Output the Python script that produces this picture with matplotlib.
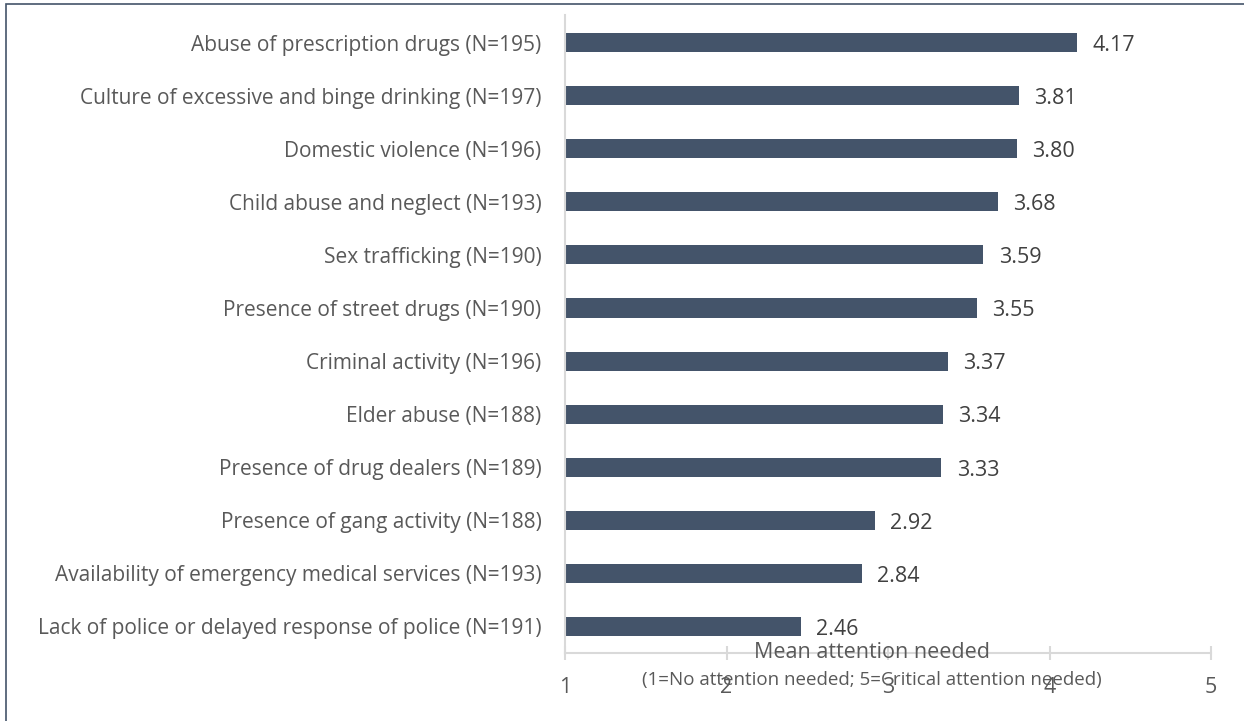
import matplotlib.pyplot as plt
from matplotlib.patches import Rectangle

labels = [
    'Abuse of prescription drugs (N=195)',
    'Culture of excessive and binge drinking (N=197)',
    'Domestic violence (N=196)',
    'Child abuse and neglect (N=193)',
    'Sex trafficking (N=190)',
    'Presence of street drugs (N=190)',
    'Criminal activity (N=196)',
    'Elder abuse (N=188)',
    'Presence of drug dealers (N=189)',
    'Presence of gang activity (N=188)',
    'Availability of emergency medical services (N=193)',
    'Lack of police or delayed response of police (N=191)',
]
means = [4.17, 3.81, 3.80, 3.68, 3.59, 3.55, 3.37, 3.34, 3.33, 2.92, 2.84, 2.46]
x_ticks = [1, 2, 3, 4, 5]

plt.rcParams['font.family'] = ['Open Sans', 'DejaVu Sans']
txt = '#595959'
bar_col = '#44546a'
grid_col = '#d9d9d9'

fig = plt.figure(figsize=(12.44, 7.21), dpi=100)
ax = fig.add_axes([565 / 1244, 1 - 653 / 721, 646 / 1244, 638 / 721])

pos = list(range(len(labels)))[::-1]
base = x_ticks[0]
ax.barh(pos, [m - base for m in means], left=base, height=0.36, color=bar_col)
for p, m in zip(pos, means):
    ax.annotate('%.2f' % m, (m, p), xytext=(11, -2), textcoords='offset points',
                va='center', ha='left', fontsize=15.5, color='#404040')

ax.set_xlim(1, 5)
ax.set_ylim(-0.5, 11.52)
ax.set_yticks(pos)
ax.set_yticklabels(labels, fontsize=15, color=txt)
ax.set_xticks(x_ticks)
ax.set_xticklabels([str(t) for t in x_ticks], fontsize=15.5, color=txt)
ax.tick_params(axis='y', length=0, pad=17)
ax.tick_params(axis='x', direction='inout', length=10, width=1.5, color=grid_col, pad=12)

for s in ['top', 'right']:
    ax.spines[s].set_visible(False)
ax.spines['bottom'].set_color(grid_col)
ax.spines['bottom'].set_linewidth(1.5)
ax.spines['left'].set_color(grid_col)
ax.spines['left'].set_linewidth(1.5)

fig.text(872 / 1244, 1 - 652 / 721, 'Mean attention needed', ha='center', va='center',
         fontsize=15.5, color=txt)
fig.text(872 / 1244, 1 - 680 / 721, '(1=No attention needed; 5=Critical attention needed)',
         ha='center', va='center', fontsize=13.5, color=txt)

# outer frame
fig.patches.append(Rectangle((6 / 1244, -0.1), 1.2, 1 - 4 / 721 + 0.1,
                             transform=fig.transFigure, fill=False,
                             edgecolor='#44546a', linewidth=1.2))

fig.savefig('out.png', dpi=100)
